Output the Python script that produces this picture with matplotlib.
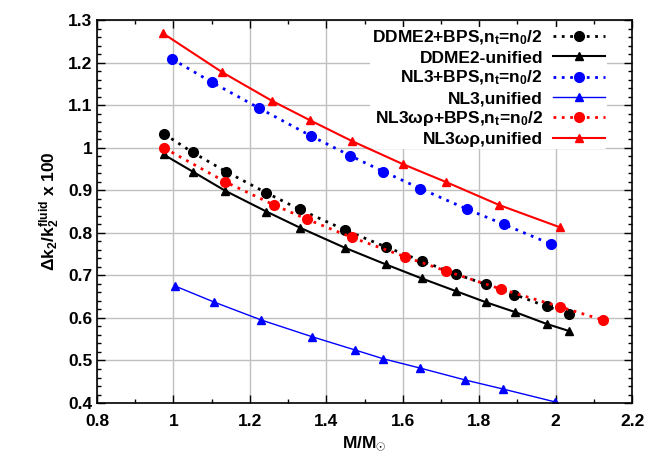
import matplotlib
matplotlib.use("Agg")
import matplotlib.pyplot as plt
from matplotlib.ticker import MultipleLocator, FormatStrFormatter

plt.rcParams['font.family'] = ['Liberation Sans', 'DejaVu Sans']
plt.rcParams['font.weight'] = 'bold'
plt.rcParams['mathtext.fontset'] = 'custom'
plt.rcParams['mathtext.rm'] = 'Liberation Sans'
plt.rcParams['mathtext.bf'] = 'Liberation Sans:bold'
plt.rcParams['mathtext.it'] = 'Liberation Sans:italic'
plt.rcParams['mathtext.default'] = 'bf'

# DDME2 + BPS crust, n_t = n0/2
ddme2_bps_m = [0.976, 1.05, 1.137, 1.243, 1.330, 1.448, 1.555, 1.649, 1.739, 1.817, 1.892, 1.976, 2.036]
ddme2_bps_k = [1.032, 0.989, 0.944, 0.894, 0.855, 0.807, 0.767, 0.734, 0.703, 0.679, 0.655, 0.627, 0.610]

# DDME2 unified
ddme2_uni_m = [0.974, 1.05, 1.135, 1.243, 1.331, 1.448, 1.555, 1.649, 1.739, 1.817, 1.893, 1.976, 2.036]
ddme2_uni_k = [0.984, 0.944, 0.899, 0.850, 0.812, 0.765, 0.726, 0.693, 0.663, 0.637, 0.614, 0.586, 0.569]

# NL3 + BPS
nl3_bps_m = [0.997, 1.100, 1.224, 1.359, 1.463, 1.549, 1.646, 1.767, 1.864, 1.989]
nl3_bps_k = [1.208, 1.154, 1.093, 1.028, 0.981, 0.944, 0.904, 0.856, 0.820, 0.773]

# NL3 unified
nl3_uni_m = [1.004, 1.107, 1.230, 1.362, 1.474, 1.549, 1.646, 1.764, 1.862, 1.997]
nl3_uni_k = [0.675, 0.637, 0.595, 0.556, 0.525, 0.504, 0.482, 0.454, 0.433, 0.403]

# NL3wr + BPS
nl3wr_bps_m = [0.976, 1.135, 1.264, 1.349, 1.467, 1.605, 1.714, 1.856, 2.012, 2.124]
nl3wr_bps_k = [0.999, 0.920, 0.865, 0.832, 0.789, 0.744, 0.710, 0.668, 0.626, 0.595]

# NL3wr unified
nl3wr_uni_m = [0.972, 1.128, 1.258, 1.356, 1.466, 1.601, 1.714, 1.853, 2.011]
nl3wr_uni_k = [1.269, 1.177, 1.110, 1.065, 1.016, 0.961, 0.919, 0.865, 0.813]

dot = (0, (1, 2))

fig = plt.figure(figsize=(6.49, 4.58), dpi=100)
ax = fig.add_axes([0.1495, 0.120, 0.8245, 0.8363])

ax.plot(ddme2_bps_m, ddme2_bps_k, color='black', ls=dot, lw=2, marker='o', ms=7,
        label=r'DDME2+BPS,n$_t$=n$_0$/2')
ax.plot(ddme2_uni_m, ddme2_uni_k, color='black', ls='-', lw=1.5, marker='^', ms=5.5,
        label='DDME2-unified')
ax.plot(nl3_bps_m, nl3_bps_k, color='blue', ls=dot, lw=2, marker='o', ms=7,
        label=r'NL3+BPS,n$_t$=n$_0$/2')
ax.plot(nl3_uni_m, nl3_uni_k, color='blue', ls='-', lw=1, marker='^', ms=5.5,
        label='NL3,unified')
ax.plot(nl3wr_bps_m, nl3wr_bps_k, color='red', ls=dot, lw=2, marker='o', ms=7,
        label=r'NL3ωρ+BPS,n$_t$=n$_0$/2')
ax.plot(nl3wr_uni_m, nl3wr_uni_k, color='red', ls='-', lw=1.5, marker='^', ms=5.5,
        label='NL3ωρ,unified')

ax.set_xlim(0.8, 2.2)
ax.set_ylim(0.4, 1.3)
ax.xaxis.set_major_locator(MultipleLocator(0.2))
ax.xaxis.set_minor_locator(MultipleLocator(0.1))
ax.yaxis.set_major_locator(MultipleLocator(0.1))
ax.yaxis.set_minor_locator(MultipleLocator(0.02))
ax.xaxis.set_major_formatter(FormatStrFormatter('%g'))
ax.yaxis.set_major_formatter(FormatStrFormatter('%g'))
ax.tick_params(which='both', direction='in', top=True, right=True, labelsize=12.5, width=1)
ax.tick_params(which='major', length=6)
ax.tick_params(which='minor', length=3)
ax.tick_params(axis='x', pad=8)
ax.grid(True, which='major', color='#c0c0c0', lw=1)
ax.set_axisbelow(True)
for s in ax.spines.values():
    s.set_linewidth(1.2)

ax.set_xlabel(r'M/M$_{\odot}$', fontsize=12.5, fontweight='bold')
ax.set_ylabel(r'$\mathrm{\Delta}$k$_2$/k$_2^{fluid}$ x 100', fontsize=12.5, fontweight='bold')

leg = ax.legend(loc='upper right', bbox_to_anchor=(0.963, 0.996), markerfirst=False,
                frameon=True, fontsize=12.5, handlelength=3.0, labelspacing=0.2,
                borderaxespad=0.3, handletextpad=0.6, borderpad=0.1)
leg.get_frame().set_edgecolor('none')
leg.get_frame().set_facecolor('white')
leg.get_frame().set_alpha(1)
for t in leg.get_texts():
    t.set_ha('right')

fig.savefig('out.png', dpi=100)
